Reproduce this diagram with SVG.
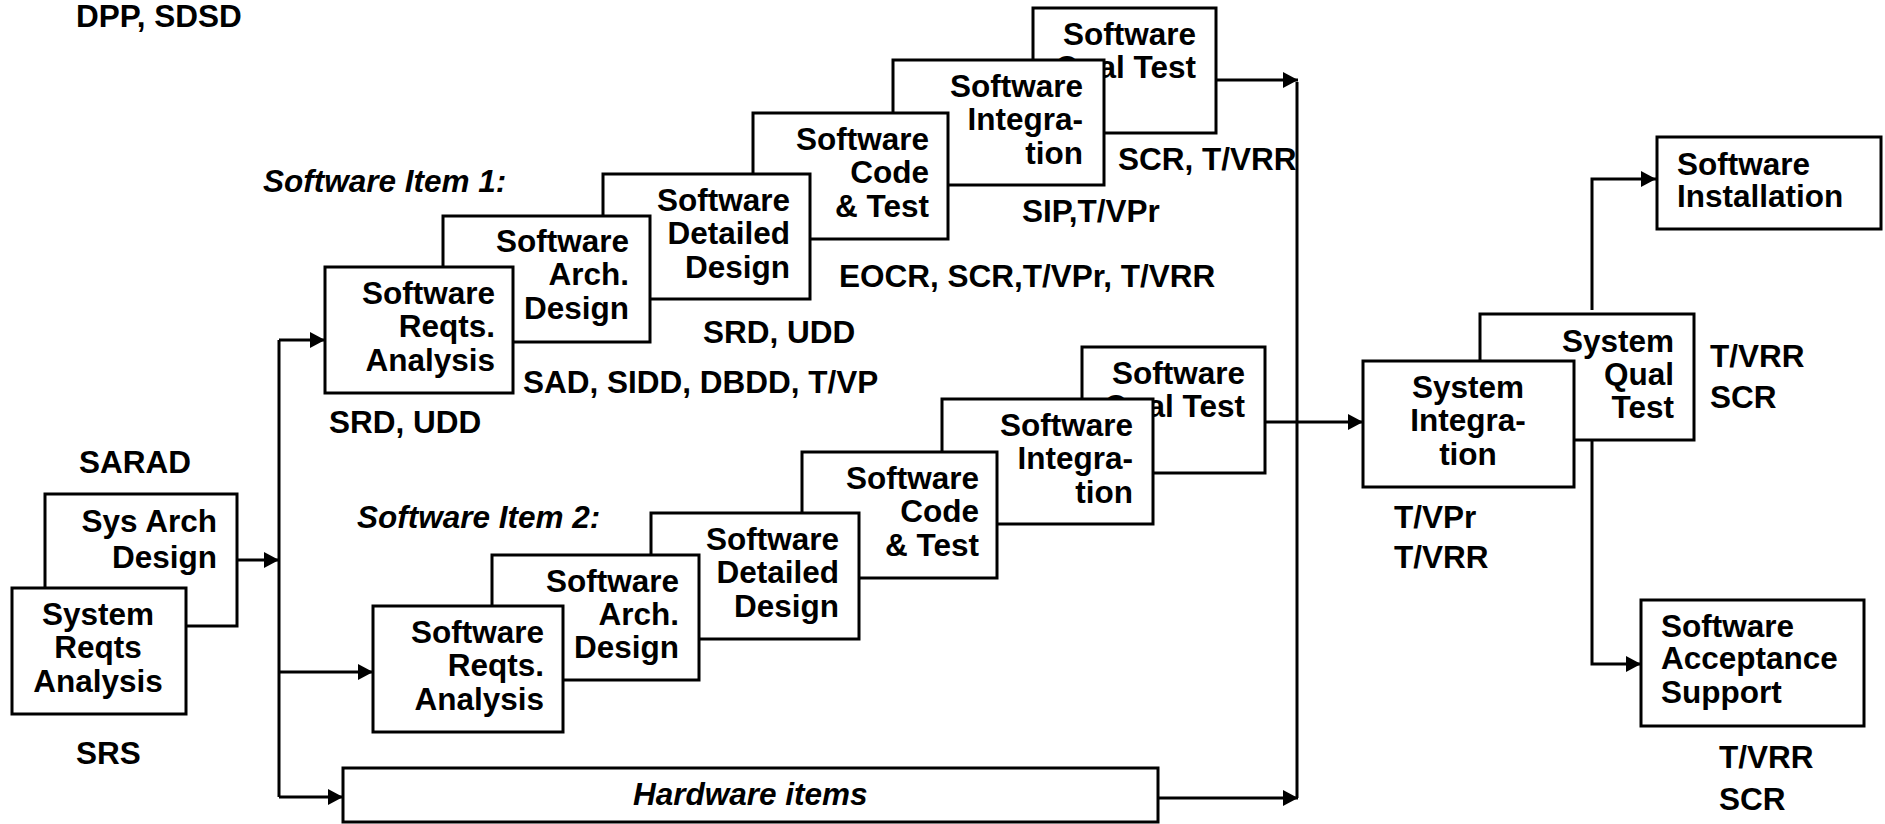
<svg xmlns="http://www.w3.org/2000/svg" width="1885" height="824" viewBox="0 0 1885 824">
  <style>
    .box { fill: #fff; stroke: #000; stroke-width: 3; }
    .t { font-family: "Liberation Sans", Arial, sans-serif; font-weight: bold; font-size: 31.5px; fill: #000; }
    .r { text-anchor: end; }
    .m { text-anchor: middle; }
    .i { font-style: italic; }
    .wire { fill: none; stroke: #000; stroke-width: 3; }
  </style>
  <defs>
    <marker id="arrow" markerUnits="userSpaceOnUse" markerWidth="15" markerHeight="16" refX="15" refY="8" orient="auto">
      <path d="M0,0 L15,8 L0,16 z" fill="#000"/>
    </marker>
  </defs>
  <rect width="1885" height="824" fill="#fff"/>

  <!-- connectors -->
  <g id="connectors">
    <path class="wire" d="M279,340 V797"/>
    <path class="wire" d="M279,340 H325" marker-end="url(#arrow)"/>
    <path class="wire" d="M237,560 H279" marker-end="url(#arrow)"/>
    <path class="wire" d="M279,672 H373" marker-end="url(#arrow)"/>
    <path class="wire" d="M279,797 H343" marker-end="url(#arrow)"/>
    <path class="wire" d="M1216,80 H1298" marker-end="url(#arrow)"/>
    <path class="wire" d="M1297,82 V798"/>
    <path class="wire" d="M1158,798 H1298" marker-end="url(#arrow)"/>
    <path class="wire" d="M1265,422 H1363" marker-end="url(#arrow)"/>
    <path class="wire" d="M1592,310 V179 H1656" marker-end="url(#arrow)"/>
    <path class="wire" d="M1592,440 V664 H1641" marker-end="url(#arrow)"/>
  </g>

  <!-- free labels -->
  <g id="labels" class="t">
    <text x="76" y="27">DPP, SDSD</text>
    <text class="i" x="263" y="192">Software Item 1:</text>
    <text class="i" x="357" y="528">Software Item 2:</text>
    <text x="79" y="473">SARAD</text>
    <text x="76" y="764">SRS</text>
    <text x="329" y="433">SRD, UDD</text>
    <text x="523" y="393">SAD, SIDD, DBDD, T/VP</text>
    <text x="703" y="343">SRD, UDD</text>
    <text x="839" y="287">EOCR, SCR,T/VPr, T/VRR</text>
    <text x="1022" y="222">SIP,T/VPr</text>
    <text x="1118" y="170">SCR, T/VRR</text>
    <text x="1394" y="528">T/VPr</text>
    <text x="1394" y="568">T/VRR</text>
    <text x="1710" y="367">T/VRR</text>
    <text x="1710" y="408">SCR</text>
    <text x="1719" y="768">T/VRR</text>
    <text x="1719" y="810">SCR</text>
  </g>

  <!-- system level, left -->
  <g id="sys-arch-design">
    <rect class="box" x="45" y="494" width="192" height="132"/>
    <text class="t r" x="217" y="532">Sys Arch</text>
    <text class="t r" x="217" y="568">Design</text>
  </g>
  <g id="system-reqts-analysis">
    <rect class="box" x="12" y="588" width="174" height="126"/>
    <text class="t m" x="98" y="625">System</text>
    <text class="t m" x="98" y="658">Reqts</text>
    <text class="t m" x="98" y="692">Analysis</text>
  </g>

  <!-- software item 1 -->
  <g id="sw1-qual-test">
    <rect class="box" x="1033" y="8" width="183" height="125"/>
    <text class="t r" x="1196" y="45">Software</text>
    <text class="t r" x="1196" y="78">Qual Test</text>
  </g>
  <g id="sw1-integration">
    <rect class="box" x="893" y="60" width="211" height="125"/>
    <text class="t r" x="1083" y="97">Software</text>
    <text class="t r" x="1083" y="130">Integra-</text>
    <text class="t r" x="1083" y="164">tion</text>
  </g>
  <g id="sw1-code-test">
    <rect class="box" x="753" y="113" width="195" height="126"/>
    <text class="t r" x="929" y="150">Software</text>
    <text class="t r" x="929" y="183">Code</text>
    <text class="t r" x="929" y="217">&amp; Test</text>
  </g>
  <g id="sw1-detailed-design">
    <rect class="box" x="603" y="174" width="207" height="125"/>
    <text class="t r" x="790" y="211">Software</text>
    <text class="t r" x="790" y="244">Detailed</text>
    <text class="t r" x="790" y="278">Design</text>
  </g>
  <g id="sw1-arch-design">
    <rect class="box" x="443" y="216" width="207" height="126"/>
    <text class="t r" x="629" y="252">Software</text>
    <text class="t r" x="629" y="285">Arch.</text>
    <text class="t r" x="629" y="319">Design</text>
  </g>
  <g id="sw1-reqts-analysis">
    <rect class="box" x="325" y="267" width="188" height="126"/>
    <text class="t r" x="495" y="304">Software</text>
    <text class="t r" x="495" y="337">Reqts.</text>
    <text class="t r" x="495" y="371">Analysis</text>
  </g>

  <!-- software item 2 -->
  <g id="sw2-qual-test">
    <rect class="box" x="1082" y="347" width="183" height="126"/>
    <text class="t r" x="1245" y="384">Software</text>
    <text class="t r" x="1245" y="417">Qual Test</text>
  </g>
  <g id="sw2-integration">
    <rect class="box" x="942" y="399" width="211" height="125"/>
    <text class="t r" x="1133" y="436">Software</text>
    <text class="t r" x="1133" y="469">Integra-</text>
    <text class="t r" x="1133" y="503">tion</text>
  </g>
  <g id="sw2-code-test">
    <rect class="box" x="802" y="452" width="195" height="126"/>
    <text class="t r" x="979" y="489">Software</text>
    <text class="t r" x="979" y="522">Code</text>
    <text class="t r" x="979" y="556">&amp; Test</text>
  </g>
  <g id="sw2-detailed-design">
    <rect class="box" x="651" y="513" width="208" height="126"/>
    <text class="t r" x="839" y="550">Software</text>
    <text class="t r" x="839" y="583">Detailed</text>
    <text class="t r" x="839" y="617">Design</text>
  </g>
  <g id="sw2-arch-design">
    <rect class="box" x="492" y="555" width="207" height="125"/>
    <text class="t r" x="679" y="592">Software</text>
    <text class="t r" x="679" y="625">Arch.</text>
    <text class="t r" x="679" y="658">Design</text>
  </g>
  <g id="sw2-reqts-analysis">
    <rect class="box" x="373" y="606" width="190" height="126"/>
    <text class="t r" x="544" y="643">Software</text>
    <text class="t r" x="544" y="676">Reqts.</text>
    <text class="t r" x="544" y="710">Analysis</text>
  </g>

  <!-- hardware -->
  <g id="hardware-items">
    <rect class="box" x="343" y="768" width="815" height="54"/>
    <text class="t i" x="633" y="805">Hardware items</text>
  </g>

  <!-- system level, right -->
  <g id="system-qual-test">
    <rect class="box" x="1480" y="314" width="214" height="126"/>
    <text class="t r" x="1674" y="352">System</text>
    <text class="t r" x="1674" y="385">Qual</text>
    <text class="t r" x="1674" y="418">Test</text>
  </g>
  <g id="system-integration">
    <rect class="box" x="1363" y="361" width="211" height="126"/>
    <text class="t m" x="1468" y="398">System</text>
    <text class="t m" x="1468" y="431">Integra-</text>
    <text class="t m" x="1468" y="465">tion</text>
  </g>
  <g id="software-installation">
    <rect class="box" x="1657" y="137" width="224" height="92"/>
    <text class="t" x="1677" y="175">Software</text>
    <text class="t" x="1677" y="207">Installation</text>
  </g>
  <g id="software-acceptance-support">
    <rect class="box" x="1641" y="600" width="223" height="126"/>
    <text class="t" x="1661" y="637">Software</text>
    <text class="t" x="1661" y="669">Acceptance</text>
    <text class="t" x="1661" y="703">Support</text>
  </g>
</svg>
